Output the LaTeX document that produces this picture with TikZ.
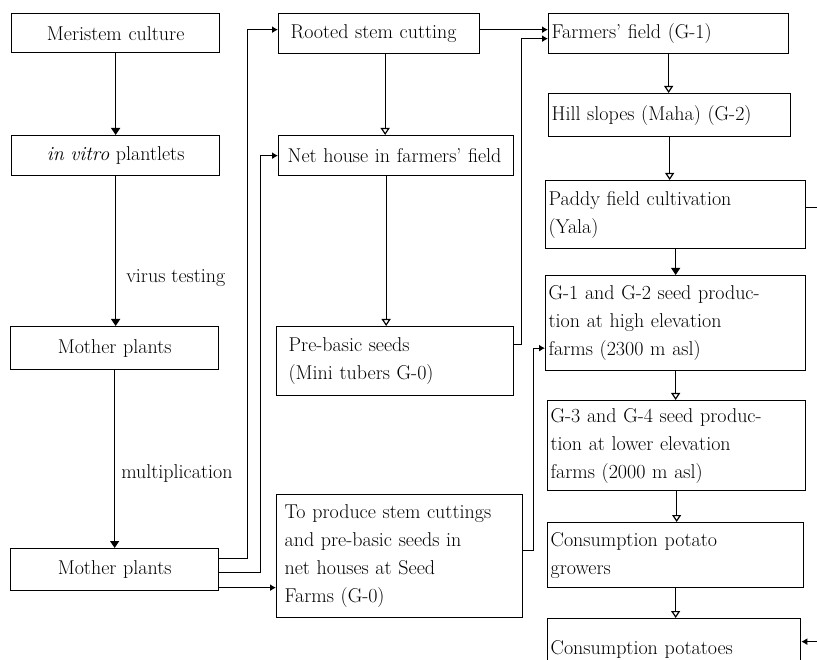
\documentclass[tikz,border=0pt]{standalone}
\usetikzlibrary{arrows.meta,positioning}
\begin{document}
\begin{tikzpicture}[
        x=1pt, y=-1pt,
        box/.style={draw, line width=1.3pt, anchor=north west, inner ysep=0pt,
          font=\fontsize{20}{28}\selectfont},
        cbox/.style={box, inner xsep=0pt, text width=208pt, align=center},
        lbox/.style={box, inner xsep=#1, align=left},
        lbl/.style={font=\fontsize{20}{28}\selectfont, inner sep=2pt},
        arr/.style={line width=1.2pt, -{Triangle[width=9pt,length=7pt]}},
        oarr/.style={line width=1.2pt, -{Triangle[open,width=9pt,length=7pt]}},
        elb/.style={line width=1.2pt, -{Latex[width=7pt,length=6pt]}}
      ]
      \useasboundingbox (0,0) rectangle (817,660);

      % left column
      \node[cbox, minimum height=39pt] (meristem) at (11,13) {Meristem culture};
      \node[cbox, minimum height=40pt] (vitro) at (11,135) {\textit{in vitro} plantlets};
      \node[cbox, minimum height=43pt] (mothera) at (10,326) {Mother plants};
      \node[cbox, minimum height=42pt] (motherb) at (10,548) {Mother plants};

      % middle column
      \node[lbox=12pt, text width=177pt, minimum height=40pt] (rooted) at (278,13) {Rooted stem cutting};
      \node[lbox=9pt, text width=217pt, minimum height=40pt] (nethouse) at (278,135) {Net house in farmers' field};
      \node[lbox=12pt, text width=213pt, minimum height=69pt] (prebasic) at (276,326) {Pre-basic seeds\\(Mini tubers G-0)};
      \node[lbox=8pt, text width=230pt, minimum height=123pt] (produce) at (276,494)
        {To produce stem cuttings\\and pre-basic seeds in\\net houses at Seed\\Farms (G-0)};

      % right column
      \node[lbox=3pt, text width=234pt, minimum height=40pt] (farmers) at (548,13) {Farmers' field (G-1)};
      \node[lbox=3pt, text width=236pt, minimum height=43pt] (hill) at (548,93) {Hill slopes (Maha) (G-2)};
      \node[lbox=3pt, text width=254pt, minimum height=68pt] (paddy) at (545,180) {Paddy field cultivation\\(Yala)};
      \node[lbox=3pt, text width=254pt, minimum height=95pt] (gonetwo) at (545,275)
        {G-1 and G-2 seed produc-\\tion at high elevation\\farms (2300 m asl)};
      \node[lbox=3pt, text width=252pt, minimum height=90pt] (gthreefour) at (547,400)
        {G-3 and G-4 seed produc-\\tion at lower elevation\\farms (2000 m asl)};
      \node[lbox=3pt, text width=250pt, minimum height=65pt] (growers) at (547,522) {Consumption potato\\growers};
      \node[lbox=3pt, text width=247pt, minimum height=62pt] (potatoes) at (547,618) {Consumption potatoes};

      \draw[arr] (meristem.south) -- (meristem.south |- vitro.north);
      \draw[arr] (vitro.south) -- node[lbl, right=8pt, pos=0.68] {virus testing} (vitro.south |- mothera.north);
      \draw[arr] (mothera.south) -- node[lbl, right=4pt, pos=0.58] {multiplication} (mothera.south |- motherb.north);

      % from the mother plants to the middle column
      \draw[elb] ([yshift=11pt]motherb.east) -- ++(28,0) |- ([yshift=4pt]rooted.west);
      \draw[elb] ([yshift=-3pt]motherb.east) -- ++(41,0) |- (nethouse.west);
      \draw[elb] ([yshift=-18pt]motherb.east) -- ([yshift=-18pt]motherb.east -| produce.west);

      \draw[oarr] ([xshift=6pt]rooted.south) -- ([xshift=6pt]rooted.south |- nethouse.north);
      \draw[oarr] ([xshift=-10pt]nethouse.south) -- ([xshift=-10pt]nethouse.south |- prebasic.north);

      % into the right column
      \draw[elb] ([yshift=4pt]rooted.east) -- ([yshift=4pt]rooted.east -| farmers.west);
      \draw[elb] ([yshift=17pt]prebasic.east) -- ++(7,0) |- ([yshift=-5pt]farmers.west);
      \draw[elb] ([yshift=6pt]produce.east) -- ++(10,0) |- ([yshift=-25pt]gonetwo.west);
      \draw[elb] ([yshift=7pt]paddy.east) -- ++(40,0) |- ([yshift=8pt]potatoes.east);

      \draw[oarr] (farmers.south) -- (farmers.south |- hill.north);
      \draw[oarr] (hill.south) -- (hill.south |- paddy.north);
      \draw[arr] (paddy.south) -- (paddy.south |- gonetwo.north);
      \draw[oarr] (gonetwo.south) -- (gonetwo.south |- gthreefour.north);
      \draw[oarr] (gthreefour.south) -- (gthreefour.south |- growers.north);
      \draw[oarr] (growers.south) -- (growers.south |- potatoes.north);

    \end{tikzpicture}
\end{document}
